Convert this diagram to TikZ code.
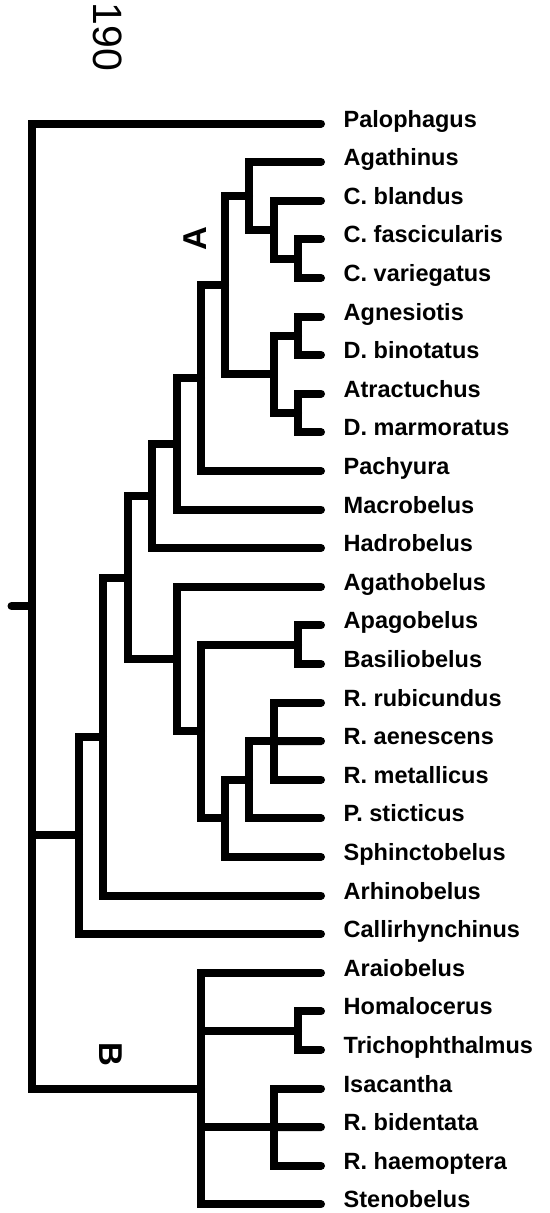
\documentclass[tikz,border=0pt]{standalone}
\usepackage{fontspec}
\setmainfont{Liberation Sans}
\begin{document}
\begin{tikzpicture}[x=1pt,y=-1pt,
  br/.style={line width=8pt,line cap=round,line join=miter,draw=black},
  lab/.style={anchor=base west,inner sep=0pt,font=\fontsize{23.5}{26}\selectfont\bfseries},
  clade/.style={inner sep=0pt,font=\fontsize{33}{36}\selectfont\bfseries}]
\useasboundingbox (0,0) rectangle (549,1213);
% leaves
\foreach \i/\t in {0/Palophagus,1/Agathinus,2/C. blandus,3/C. fascicularis,4/C. variegatus,
  5/Agnesiotis,6/D. binotatus,7/Atractuchus,8/D. marmoratus,9/Pachyura,10/Macrobelus,
  11/Hadrobelus,12/Agathobelus,13/Apagobelus,14/Basiliobelus,15/R. rubicundus,
  16/R. aenescens,17/R. metallicus,18/P. sticticus,19/Sphinctobelus,20/Arhinobelus,
  21/Callirhynchinus,22/Araiobelus,23/Homalocerus,24/Trichophthalmus,25/Isacantha,
  26/R. bidentata,27/R. haemoptera,28/Stenobelus}{
  \coordinate (l\i) at (321,{123.5+38.6*\i});
  \node[lab] (t\i) at (343.5,{127+38.6*\i}) {\t};
}
% internal nodes
\coordinate (n34) at (298,258.6);
\coordinate (n2) at (273.5,229.65);
\coordinate (n1) at (249,195.9);
\coordinate (n56) at (298,335.8);
\coordinate (n78) at (298,413.0);
\coordinate (n58) at (273.5,374.4);
\coordinate (nA1) at (225,285.1);
\coordinate (nA) at (201,378.0);
\coordinate (nM) at (176.5,443.75);
\coordinate (nH) at (152,495.9);
\coordinate (n1314) at (298,644.6);
\coordinate (n1517) at (273.5,741.1);
\coordinate (n1518) at (249,779.7);
\coordinate (n1519) at (225,818.3);
\coordinate (n1319) at (201,731.45);
\coordinate (n1219) at (176.5,659.1);
\coordinate (nX) at (127.5,577.5);
\coordinate (nArh) at (103,736.5);
\coordinate (nCal) at (79,835.3);
\coordinate (n2324) at (298,1030.6);
\coordinate (n2527) at (273.5,1127.1);
\coordinate (nB) at (201,1088.5);
\coordinate (root) at (31.5,606);
\coordinate (rt) at (11.5,606);
% branches
\foreach \p/\c in {root/l0,root/nCal,root/nB,
  nCal/nArh,nCal/l21,nArh/nX,nArh/l20,nX/nH,nX/n1219,
  nH/nM,nH/l11,nM/nA,nM/l10,nA/nA1,nA/l9,nA1/n1,nA1/n58,
  n1/l1,n1/n2,n2/l2,n2/n34,n34/l3,n34/l4,
  n58/n56,n58/n78,n56/l5,n56/l6,n78/l7,n78/l8,
  n1219/l12,n1219/n1319,n1319/n1314,n1319/n1519,n1314/l13,n1314/l14,
  n1519/n1518,n1519/l19,n1518/n1517,n1518/l18,n1517/l15,n1517/l17,
  nB/l22,nB/n2324,nB/n2527,nB/l28,n2324/l23,n2324/l24,n2527/l25,n2527/l27}{
  \draw[br] (\p) |- (\c);
}
\draw[br] (n1517) -- (l16);
\draw[br] (n2527) -- (l26);
\draw[br] (rt) -- (root);
% labels
\node[inner sep=0pt,font=\fontsize{41}{45}\selectfont,rotate=-90] (n190) at (107.5,37) {190};
\node[clade,rotate=90] (cA) at (195.5,238.5) {A};
\node[clade,rotate=-90] (cB) at (111,1054) {B};
\end{tikzpicture}
\end{document}
